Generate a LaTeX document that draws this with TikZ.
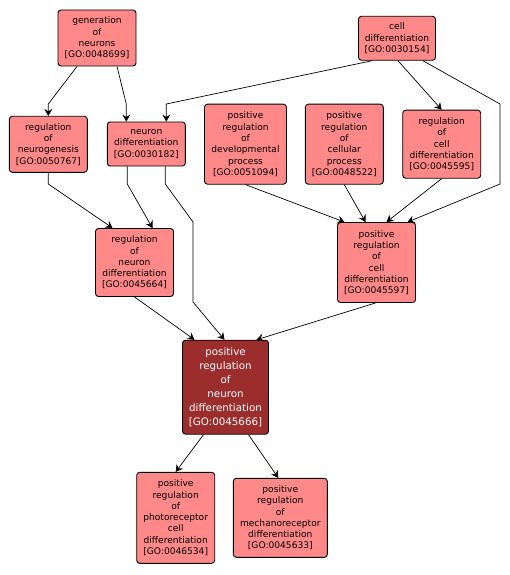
\documentclass[tikz,border=0pt]{standalone}
\usepackage{fontspec}
\setmainfont{DejaVu Sans}
\usetikzlibrary{arrows.meta, positioning}
\definecolor{termpink}{RGB}{255,137,137}
\definecolor{termdark}{RGB}{155,45,45}

\begin{document}
\begin{tikzpicture}[x=1pt, y=-1pt, >={Stealth[length=7pt, width=8pt, inset=2.5pt]}]
        \useasboundingbox (0,0) rectangle (510,575);
        \tikzstyle{every node}=[rectangle, rounded corners=3pt, draw, line width=0.9pt, fill=termpink, align=center, inner sep=0pt, minimum width=78pt, font=\fontsize{9.1}{11.3}\selectfont]

        % Top nodes
        \node[minimum height=56pt] (gen) at (97,38) {generation\\of\\neurons\\{[GO:0048699]}};
        \node[minimum width=77pt, minimum height=44pt] (celldiff) at (397,38.3) {cell\\differentiation\\{[GO:0030154]}};

        % Middle row
        \node[minimum height=56pt] (neurog) at (48.3,144.3) {regulation\\of\\neurogenesis\\{[GO:0050767]}};
        \node[minimum height=44pt] (neurdiff) at (146.3,144) {neuron\\differentiation\\{[GO:0030182]}};
        \node[minimum width=82pt, minimum height=80pt] (posdev) at (245.5,144.2) {positive\\regulation\\of\\developmental\\process\\{[GO:0051094]}};
        \node[minimum height=80pt] (poscellproc) at (344.3,144.2) {positive\\regulation\\of\\cellular\\process\\{[GO:0048522]}};
        \node[minimum height=68pt] (regcelldiff) at (441.7,144.2) {regulation\\of\\cell\\differentiation\\{[GO:0045595]}};

        % Lower row
        \node[minimum height=68pt] (regneurdiff) at (134.5,262.5) {regulation\\of\\neuron\\differentiation\\{[GO:0045664]}};
        \node[minimum height=80pt] (posregcell) at (376.5,262.5) {positive\\regulation\\of\\cell\\differentiation\\{[GO:0045597]}};

        % the term itself
        \node[minimum width=86pt, minimum height=94pt, fill=termdark, text=white, font=\fontsize{10.3}{14}\selectfont] (posregneur) at (225.5,387.2) {positive\\regulation\\of\\neuron\\differentiation\\{[GO:0045666]}};

        % Children
        \node[minimum height=91pt] (photo) at (175.7,517.8) {positive\\regulation\\of\\photoreceptor\\cell\\differentiation\\{[GO:0046534]}};
        \node[minimum width=94pt, minimum height=79pt] (mechano) at (280.3,517.8) {positive\\regulation\\of\\mechanoreceptor\\differentiation\\{[GO:0045633]}};

        % Edges
        \tikzstyle{edge} = [draw, ->, line width=0.7pt]

        \draw[edge] ([xshift=-20pt]gen.south) -- (48.3,104) -- (neurog.north);
        \draw[edge] ([xshift=20pt]gen.south) -- (126.3,104) -- ([xshift=-20pt]neurdiff.north);
        \draw[edge] ([xshift=-25pt]celldiff.south) -- (166.3,104) -- ([xshift=20pt]neurdiff.north);
        \draw[edge] ([xshift=1pt]celldiff.south) -- (regcelldiff.north);
        \draw[edge] ([xshift=26pt]celldiff.south) -- (500,104) -- (500,184) -- ([xshift=31pt]posregcell.north);

        \draw[edge] (posdev.south) -- ([xshift=-32pt]posregcell.north);
        \draw[edge] (poscellproc.south) -- ([xshift=-11pt]posregcell.north);
        \draw[edge] (regcelldiff.south) -- ([xshift=10pt]posregcell.north);

        \draw[edge] (neurog.south) -- (48.3,184) -- ([xshift=-22pt]regneurdiff.north);
        \draw[edge] ([xshift=-19pt]neurdiff.south) -- (127.3,184) -- ([xshift=18pt]regneurdiff.north);
        \draw[edge] ([xshift=19pt]neurdiff.south) -- (165.3,184) -- (193,222) -- (193,302) -- ([xshift=-1pt]posregneur.north);

        \draw[edge] (regneurdiff.south) -- ([xshift=-31pt]posregneur.north);
        \draw[edge] ([xshift=-1pt]posregcell.south) -- ([xshift=31pt]posregneur.north);

        % mark the children
        \draw[edge] ([xshift=-22pt]posregneur.south) -- (photo.north);
        \draw[edge] ([xshift=23pt]posregneur.south) -- ([xshift=-2pt]mechano.north);

\end{tikzpicture}
\end{document}
